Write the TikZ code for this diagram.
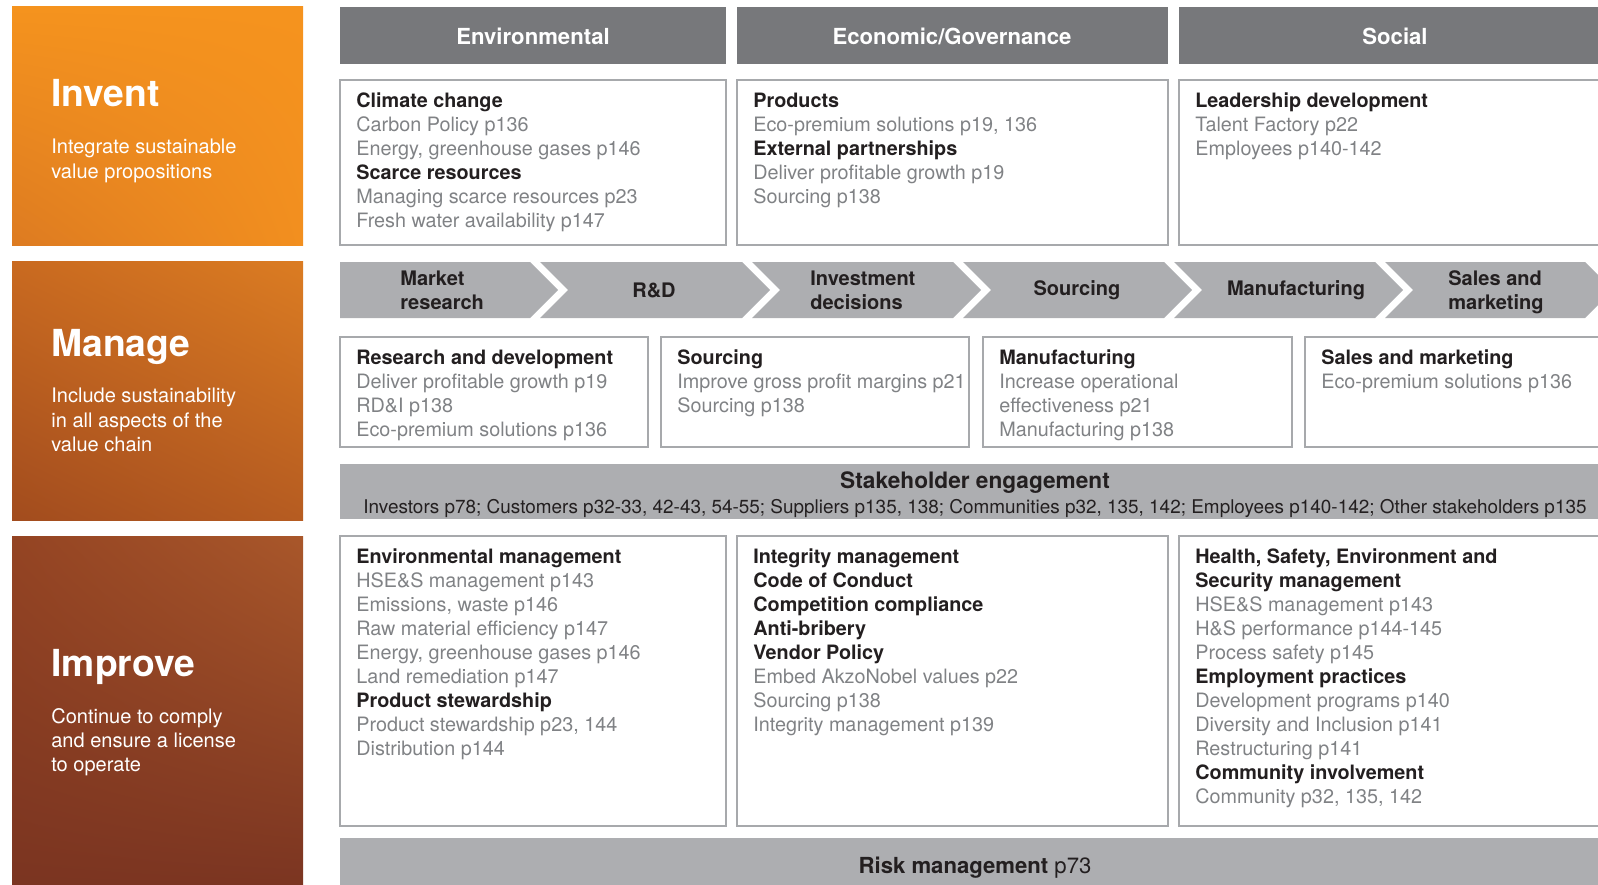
\documentclass[tikz,border=0pt]{standalone}
\usepackage{fontspec}
\setmainfont{TeX Gyre Heros}
\usetikzlibrary{shadings}

\definecolor{txtdark}{HTML}{231F20}
\definecolor{txtgray}{HTML}{808285}
\definecolor{kopfgrau}{HTML}{77787B}
\definecolor{bandgrau}{HTML}{ADAEB1}
\definecolor{rahmen}{HTML}{A7A9AC}
% Farben links
\definecolor{invA}{HTML}{F5931E}
\definecolor{invB}{HTML}{DD7B21}
\definecolor{invC}{HTML}{F28F1F}
\definecolor{manA}{HTML}{C96A20}
\definecolor{manB}{HTML}{DB7C22}
\definecolor{manC}{HTML}{A24C1E}
\definecolor{manD}{HTML}{B65C21}
\definecolor{impA}{HTML}{944423}
\definecolor{impB}{HTML}{A9572A}
\definecolor{impC}{HTML}{7A3421}

\newcommand{\hd}[1]{\textcolor{txtdark}{\bfseries\vphantom{C}#1}}

\tikzset{
    box/.style={draw=rahmen, line width=0.9pt},
    txt/.style={anchor=north west, inner sep=0pt, align=left, text=txtgray,
        font=\fontsize{11.27}{13.66}\selectfont},
    kopf/.style={text=white, inner sep=0pt, font=\bfseries\fontsize{12.6}{15}\selectfont},
    pfeiltxt/.style={align=left, inner sep=0pt, text=txtdark,
        font=\bfseries\fontsize{11.4}{13.6}\selectfont},
    titel/.style={anchor=base west, inner sep=0pt, text=white,
        font=\bfseries\fontsize{21.2}{25}\selectfont},
    untertitel/.style={anchor=north west, inner sep=0pt, align=left, text=white,
        font=\fontsize{11.4}{13.7}\selectfont}
}

\begin{document}
\begin{tikzpicture}[x=0.02cm, y=-0.02cm]
    \path[use as bounding box, clip] (0,0) rectangle (1598,885);
    % linke Spalte:
    \shade[upper left=invA, upper right=invA, lower left=invB, lower right=invC] (12,7) rectangle (303,245); % Invent
    \shade[upper left=manA, upper right=manB, lower left=manC, lower right=manD] (12,261) rectangle (303,520); % Manage
    \shade[upper left=impA, upper right=impB, lower left=impC, lower right=impC] (12,536) rectangle (303,895); % Improve

    \node[titel] (invent) at (51,107) {Invent};
    \node[untertitel] (inventtxt) at (51,139) {Integrate sustainable\\value propositions};
    \node[titel] (manage) at (51,356) {Manage};
    \node[untertitel] (managetxt) at (51,388) {Include sustainability\\in all aspects of the\\value chain};
    \node[titel] (improve) at (51,676) {Improve};
    \node[untertitel] (improvetxt) at (51,708) {Continue to comply\\and ensure a license\\to operate};

    % Kopfzeile:
    \fill[kopfgrau] (340,7) rectangle (726,64); % erster Kopf
    \fill[kopfgrau] (737,7) rectangle (1168,64); % zweiter Kopf
    \fill[kopfgrau] (1179,7) rectangle (1611,64); % dritter Kopf
    \node[kopf] (henv) at (533,36) {Environmental};
    \node[kopf] (hecon) at (952,36) {Economic/Governance};
    \node[kopf] (hsoc) at (1395,36) {Social};

    % obere Kaesten:
    \draw[box] (340,80) rectangle (726,245);
    \draw[box] (737,80) rectangle (1168,245);
    \draw[box] (1179,80) rectangle (1611,245);
    \node[txt] (envtop) at (356,92) {\hd{Climate change}\\Carbon Policy p136\\Energy, greenhouse gases p146\\
        \hd{Scarce resources}\\Managing scarce resources p23\\Fresh water availability p147};
    \node[txt] (econtop) at (753,92) {\hd{Products}\\Eco-premium solutions p19, 136\\
        \hd{External partnerships}\\Deliver profitable growth p19\\Sourcing p138};
    \node[txt] (soctop) at (1195,92) {\hd{Leadership development}\\Talent Factory p22\\Employees p140-142};

    % Wertschoepfungskette:
    \fill[bandgrau] (340,262) -- (530,262) -- (558,290) -- (530,318) -- (340,318) -- cycle; % erster Pfeil
    \fill[bandgrau] (540,262) -- (742,262) -- (770,290) -- (742,318) -- (540,318) -- (568,290) -- cycle; % zweiter Pfeil
    \fill[bandgrau] (752,262) -- (953,262) -- (981,290) -- (953,318) -- (752,318) -- (780,290) -- cycle; % dritter Pfeil
    \fill[bandgrau] (963,262) -- (1164,262) -- (1192,290) -- (1164,318) -- (963,318) -- (991,290) -- cycle; % vierter Pfeil
    \fill[bandgrau] (1174,262) -- (1375,262) -- (1403,290) -- (1375,318) -- (1174,318) -- (1202,290) -- cycle; % fuenfter Pfeil
    \fill[bandgrau] (1385,262) -- (1585,262) -- (1613,290) -- (1585,318) -- (1385,318) -- (1413,290) -- cycle; % sechster Pfeil
    \node[pfeiltxt, anchor=north west] (market) at (400,271) {Market\\research};
    \node[pfeiltxt] (rnd) at (654,290) {R\&D};
    \node[pfeiltxt, anchor=north west] (invest) at (810,271) {Investment\\decisions};
    \node[pfeiltxt] (sourcing) at (1077,290) {Sourcing};
    \node[pfeiltxt] (manuf) at (1296,290) {Manufacturing};
    \node[pfeiltxt, anchor=north west] (sales) at (1448,270) {Sales and\\marketing};

    % mittlere Kaesten:
    \draw[box] (340,337) rectangle (648,447);
    \draw[box] (661,337) rectangle (969,447);
    \draw[box] (983,337) rectangle (1292,447);
    \draw[box] (1305,337) rectangle (1612,447);
    \node[txt] (rdbox) at (356,349) {\hd{Research and development}\\Deliver profitable growth p19\\RD\&I p138\\Eco-premium solutions p136};
    \node[txt] (srcbox) at (677,349) {\hd{Sourcing}\\Improve gross profit margins p21\\Sourcing p138};
    \node[txt] (mfgbox) at (999,349) {\hd{Manufacturing}\\Increase operational\\effectiveness p21\\Manufacturing p138};
    \node[txt] (salesbox) at (1321,349) {\hd{Sales and marketing}\\Eco-premium solutions p136};

    % Stakeholder:
    \fill[bandgrau] (340,464) rectangle (1611,519);
    \node[text=txtdark, inner sep=0pt, font=\bfseries\fontsize{12.9}{15}\selectfont] (stake) at (975,483) {Stakeholder engagement};
    \node[text=txtdark, inner sep=0pt, font=\fontsize{10.77}{12}\selectfont] (staketxt) at (975,508) {Investors p78; Customers p32-33, 42-43, 54-55; Suppliers p135, 138; Communities p32, 135, 142; Employees p140-142; Other stakeholders p135};

    % untere Kaesten:
    \draw[box] (340,536) rectangle (726,826);
    \draw[box] (737,536) rectangle (1168,826);
    \draw[box] (1179,536) rectangle (1611,826);
    \node[txt] (envbot) at (356,548) {\hd{Environmental management}\\HSE\&S management p143\\Emissions, waste p146\\
        Raw material efficiency p147\\Energy, greenhouse gases p146\\Land remediation p147\\
        \hd{Product stewardship}\\Product stewardship p23, 144\\Distribution p144};
    \node[txt] (econbot) at (753,548) {\hd{Integrity management}\\\hd{Code of Conduct}\\\hd{Competition compliance}\\
        \hd{Anti-bribery}\\\hd{Vendor Policy}\\Embed AkzoNobel values p22\\Sourcing p138\\Integrity management p139};
    \node[txt] (socbot) at (1195,548) {\hd{Health, Safety, Environment and}\\\hd{Security management}\\
        HSE\&S management p143\\H\&S performance p144-145\\Process safety p145\\
        \hd{Employment practices}\\Development programs p140\\Diversity and Inclusion p141\\
        Restructuring p141\\\hd{Community involvement}\\Community p32, 135, 142};

    % Risiko:
    \fill[bandgrau] (340,838) rectangle (1611,892);
    \node[text=txtdark, inner sep=0pt, font=\fontsize{12.6}{15}\selectfont] (risk) at (975,868) {\textbf{Risk management} p73};
\end{tikzpicture}
\end{document}
